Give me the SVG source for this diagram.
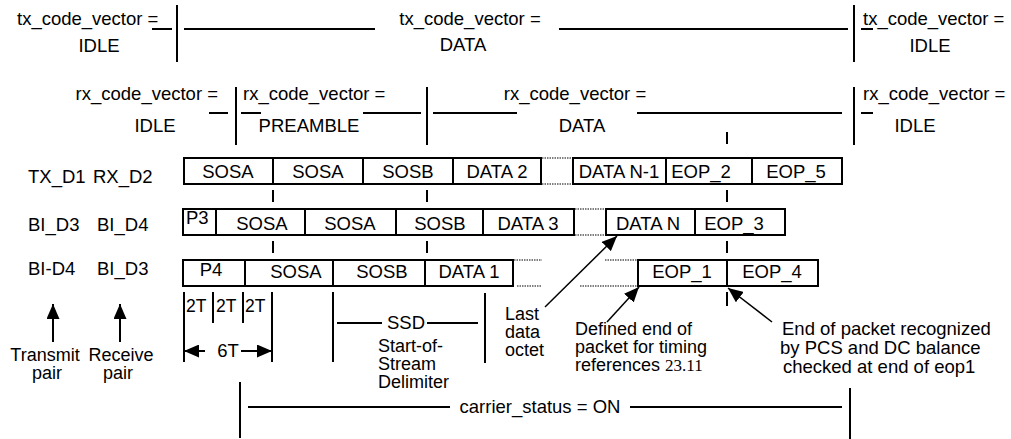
<svg xmlns="http://www.w3.org/2000/svg" width="1011" height="439" viewBox="0 0 1011 439">
<defs>
<style>
text{font-family:"Liberation Sans",Arial,sans-serif;font-size:18.5px;fill:#000}
.m{text-anchor:middle}
.e{text-anchor:end}
.ml{font-size:18px}
.ln{stroke:#000;stroke-width:2;fill:none}
.thin{stroke:#000;stroke-width:1.5;fill:none}
.cell{stroke:#000;stroke-width:2;fill:#fff}
.dot{stroke:#000;stroke-width:1;stroke-dasharray:1.5,1;fill:none}
.serif{font-family:"Liberation Serif","Times New Roman",serif;font-size:17px}
</style>
<marker id="ah" markerWidth="15" markerHeight="13" refX="15" refY="6.5" orient="auto" markerUnits="userSpaceOnUse">
<path d="M0,0 L15,6.5 L0,13 Z" fill="#000"/>
</marker>
</defs>
<rect width="1011" height="439" fill="#fff"/>

<g id="tx-vector">
<text x="17" y="25">tx_code_vector =</text>
<text x="99" y="52" class="m">IDLE</text>
<text x="470" y="25" class="m">tx_code_vector =</text>
<text x="463" y="51" class="m">DATA</text>
<text x="863" y="25">tx_code_vector =</text>
<text x="930" y="52" class="m">IDLE</text>
<line class="ln" x1="152" y1="29" x2="172" y2="29"/>
<line class="ln" x1="177" y1="5" x2="177" y2="62"/>
<line class="ln" x1="184" y1="29" x2="375" y2="29"/>
<line class="ln" x1="559" y1="29" x2="848" y2="29"/>
<line class="ln" x1="854" y1="5" x2="854" y2="62"/>
<line class="ln" x1="861" y1="29" x2="873" y2="29"/>
</g>

<g id="rx-vector">
<text x="218" y="100" class="e">rx_code_vector =</text>
<text x="155" y="132" class="m">IDLE</text>
<text x="243" y="100">rx_code_vector =</text>
<text x="309" y="132" class="m">PREAMBLE</text>
<text x="575" y="100" class="m">rx_code_vector =</text>
<text x="582" y="132" class="m">DATA</text>
<text x="863" y="100">rx_code_vector =</text>
<text x="915" y="132" class="m">IDLE</text>
<line class="ln" x1="209" y1="113" x2="228" y2="113"/>
<line class="ln" x1="236" y1="87" x2="236" y2="145"/>
<line class="ln" x1="241" y1="113" x2="261" y2="113"/>
<line class="ln" x1="363" y1="113" x2="421" y2="113"/>
<line class="ln" x1="427" y1="87" x2="427" y2="145"/>
<line class="ln" x1="433" y1="113" x2="517" y2="113"/>
<line class="ln" x1="637" y1="113" x2="842" y2="113"/>
<line class="ln" x1="854" y1="87" x2="854" y2="145"/>
<line class="ln" x1="861" y1="113" x2="873" y2="113"/>
<line class="ln" x1="727" y1="132" x2="727" y2="144"/>
</g>

<g id="row-labels">
<text x="28" y="183">TX_D1</text>
<text x="93" y="183">RX_D2</text>
<text x="28" y="231">BI_D3</text>
<text x="97" y="231">BI_D4</text>
<text x="28" y="275">BI-D4</text>
<text x="97" y="275">BI_D3</text>
</g>

<g id="row1">
<rect class="cell" x="184" y="158" width="89" height="26"/><text x="228" y="178" class="m">SOSA</text>
<rect class="cell" x="273" y="158" width="90" height="26"/><text x="318" y="178" class="m">SOSA</text>
<rect class="cell" x="363" y="158" width="90" height="26"/><text x="408" y="178" class="m">SOSB</text>
<rect class="cell" x="453" y="158" width="88" height="26"/><text x="497" y="178" class="m">DATA 2</text>
<line class="dot" x1="542" y1="158" x2="573" y2="158"/>
<line class="dot" x1="542" y1="184" x2="573" y2="184"/>
<rect class="cell" x="573" y="158" width="93" height="26"/><text x="619" y="178" class="m">DATA N-1</text>
<rect class="cell" x="666" y="158" width="86" height="26"/><text x="701" y="178" class="m">EOP_2</text>
<rect class="cell" x="752" y="158" width="90" height="26"/><text x="796" y="178" class="m">EOP_5</text>
</g>

<g id="row2">
<rect class="cell" x="183" y="209" width="33" height="26"/><text x="186" y="224">P3</text>
<rect class="cell" x="216" y="209" width="89" height="26"/><text x="262" y="230" class="m">SOSA</text>
<rect class="cell" x="305" y="209" width="91" height="26"/><text x="350" y="230" class="m">SOSA</text>
<rect class="cell" x="396" y="209" width="87" height="26"/><text x="440" y="230" class="m">SOSB</text>
<rect class="cell" x="483" y="209" width="91" height="26"/><text x="528" y="230" class="m">DATA 3</text>
<line class="dot" x1="575" y1="209" x2="606" y2="209"/>
<line class="dot" x1="575" y1="235" x2="606" y2="235"/>
<rect class="cell" x="606" y="209" width="89" height="26"/><text x="648" y="230" class="m">DATA N</text>
<rect class="cell" x="695" y="209" width="90" height="26"/><text x="734" y="230" class="m">EOP_3</text>
</g>

<g id="row3">
<rect class="cell" x="183" y="260" width="62" height="26"/><text x="211" y="276" class="m">P4</text>
<rect class="cell" x="245" y="260" width="88" height="26"/><text x="296" y="278" class="m">SOSA</text>
<rect class="cell" x="333" y="260" width="92" height="26"/><text x="382" y="278" class="m">SOSB</text>
<rect class="cell" x="425" y="260" width="88" height="26"/><text x="469" y="278" class="m">DATA 1</text>
<line class="dot" x1="514" y1="260" x2="542" y2="260"/>
<line class="dot" x1="605" y1="260" x2="638" y2="260"/>
<line class="dot" x1="517" y1="286" x2="542" y2="286"/>
<line class="dot" x1="580" y1="286" x2="638" y2="286"/>
<rect class="cell" x="638" y="260" width="89" height="26"/><text x="682" y="278" class="m">EOP_1</text>
<rect class="cell" x="727" y="260" width="91" height="26"/><text x="772" y="278" class="m">EOP_4</text>
</g>

<g id="ticks">
<line class="ln" x1="273" y1="190" x2="273" y2="202"/>
<line class="ln" x1="273" y1="241" x2="273" y2="253"/>
<line class="ln" x1="427" y1="190" x2="427" y2="202"/>
<line class="ln" x1="427" y1="241" x2="427" y2="253"/>
<line class="ln" x1="727" y1="190" x2="727" y2="202"/>
<line class="ln" x1="727" y1="241" x2="727" y2="253"/>
<line class="ln" x1="727" y1="292" x2="727" y2="306"/>
</g>

<g id="timing-6T">
<line class="ln" x1="184" y1="292" x2="184" y2="362"/>
<line class="ln" x1="213" y1="292" x2="213" y2="323"/>
<line class="ln" x1="243" y1="292" x2="243" y2="323"/>
<line class="ln" x1="272" y1="292" x2="272" y2="362"/>
<text x="186" y="312" style="font-size:17.5px">2T</text>
<text x="216" y="312" style="font-size:17.5px">2T</text>
<text x="245" y="312" style="font-size:17.5px">2T</text>
<text x="228" y="357" class="m">6T</text>
</g>

<g id="ssd">
<line class="ln" x1="333" y1="292" x2="333" y2="362"/>
<line class="ln" x1="485" y1="293" x2="485" y2="363"/>
<line class="ln" x1="337" y1="323" x2="382" y2="323"/>
<line class="ln" x1="427" y1="323" x2="478" y2="323"/>
<text x="406" y="329" class="m">SSD</text>
<text x="378" y="352" class="ml">Start-of-</text>
<text x="378" y="370" class="ml">Stream</text>
<text x="378" y="388" class="ml">Delimiter</text>
</g>

<g id="last-data-octet">
<text x="505" y="320" class="ml">Last</text>
<text x="505" y="338" class="ml">data</text>
<text x="505" y="356" class="ml">octet</text>
</g>

<g id="defined-end">
<text x="575" y="335" class="ml">Defined end of</text>
<text x="575" y="353" class="ml">packet for timing</text>
<text x="575" y="371" class="ml">references <tspan class="serif">23.11</tspan></text>
</g>

<g id="end-recognized">
<text x="782" y="335">End of packet recognized</text>
<text x="780" y="354">by PCS and DC balance</text>
<text x="783" y="373">checked at end of eop1</text>
</g>

<g id="pair-labels">
<text x="45" y="361" class="m ml">Transmit</text>
<text x="47" y="379" class="m ml">pair</text>
<text x="121" y="361" class="m ml">Receive</text>
<text x="118" y="379" class="m ml">pair</text>
</g>

<g id="carrier">
<line class="ln" x1="240" y1="382" x2="240" y2="438"/>
<line class="ln" x1="850" y1="388" x2="850" y2="439"/>
<line class="ln" x1="248" y1="407" x2="450" y2="407"/>
<line class="ln" x1="630" y1="407" x2="842" y2="407"/>
<text x="540" y="413" class="m">carrier_status = ON</text>
</g>

<g id="connectors">
<line class="ln" x1="53" y1="342" x2="53" y2="304" marker-end="url(#ah)"/>
<line class="ln" x1="120" y1="342" x2="120" y2="304" marker-end="url(#ah)"/>
<line class="ln" x1="205" y1="351" x2="184" y2="351" marker-end="url(#ah)"/>
<line class="ln" x1="241" y1="351" x2="272" y2="351" marker-end="url(#ah)"/>
<line class="thin" x1="545" y1="307" x2="617" y2="236" marker-end="url(#ah)"/>
<line class="thin" x1="607" y1="322" x2="639" y2="287" marker-end="url(#ah)"/>
<line class="thin" x1="772" y1="322" x2="728" y2="288" marker-end="url(#ah)"/>
</g>
</svg>
